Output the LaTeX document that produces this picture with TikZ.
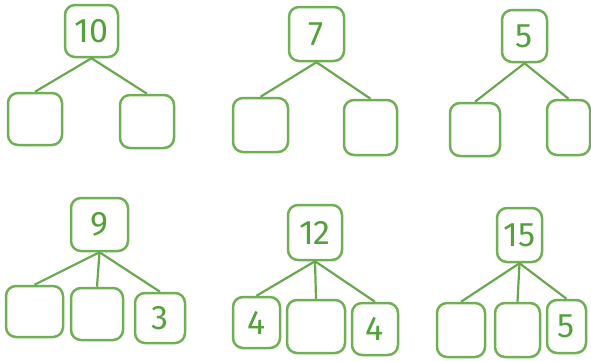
\documentclass[tikz,border=0pt]{standalone}
\usepackage{fontspec}
\setmainfont{Fira Sans}
\definecolor{boxgreen}{RGB}{112,176,84}
\definecolor{numgreen}{RGB}{84,160,60}
\definecolor{linegreen}{RGB}{104,168,78}
\tikzset{
  bx/.style={draw=boxgreen, line width=2.5pt, rounded corners=10pt, inner sep=0pt,
    text=numgreen, font=\fontsize{34}{34}\selectfont},
  ln/.style={draw=linegreen, line width=2.2pt},
}
\begin{document}
\begin{tikzpicture}[x=1pt,y=-1pt]
\useasboundingbox (0,0) rectangle (591,360);
% Tree 1
\node[bx,minimum width=53pt,minimum height=52pt] (a) at (91.5,31) {10};
\node[bx,minimum width=54pt,minimum height=52pt] (a1) at (35,119) {};
\node[bx,minimum width=54pt,minimum height=53pt] (a2) at (147,121.5) {};
\draw[ln] (a.south) -- (a1.north);
\draw[ln] (a.south) -- (a2.north);
% Tree 2
\node[bx,minimum width=55pt,minimum height=54pt] (b) at (316.5,34) {7};
\node[bx,minimum width=55pt,minimum height=54pt] (b1) at (260.5,125) {};
\node[bx,minimum width=53pt,minimum height=55pt] (b2) at (370.5,127.5) {};
\draw[ln] (b.south) -- (b1.north);
\draw[ln] (b.south) -- (b2.north);
% Tree 3
\node[bx,minimum width=45pt,minimum height=52pt] (c) at (524.5,36) {5};
\node[bx,minimum width=50pt,minimum height=53pt] (c1) at (475,129.5) {};
\node[bx,minimum width=43pt,minimum height=55pt] (c2) at (568.5,127.5) {};
\draw[ln] (c.south) -- (c1.north);
\draw[ln] (c.south) -- (c2.north);
% Tree 4
\node[bx,minimum width=57pt,minimum height=53pt] (d) at (99.5,224.5) {9};
\node[bx,minimum width=57pt,minimum height=51pt] (d1) at (34.5,311.5) {};
\node[bx,minimum width=52pt,minimum height=52pt] (d2) at (97,314) {};
\node[bx,minimum width=50pt,minimum height=50pt] (d3) at (160,318) {3};
\draw[ln] (d.south) -- (d1.north);
\draw[ln] (d.south) -- (d2.north);
\draw[ln] (d.south) -- (d3.north);
% Tree 5
\node[bx,minimum width=54pt,minimum height=55pt] (e) at (315,232.5) {12};
\node[bx,minimum width=47pt,minimum height=51pt] (e1) at (256.5,322.5) {4};
\node[bx,minimum width=58pt,minimum height=53pt] (e2) at (316,326.5) {};
\node[bx,minimum width=46pt,minimum height=52pt] (e3) at (375,329) {4};
\draw[ln] (e.south) -- (e1.north);
\draw[ln] (e.south) -- (e2.north);
\draw[ln] (e.south) -- (e3.north);
% Tree 6
\node[bx,minimum width=45pt,minimum height=54pt] (f) at (519.5,235) {15};
\node[bx,minimum width=48pt,minimum height=54pt] (f1) at (461,330) {};
\node[bx,minimum width=45pt,minimum height=54pt] (f2) at (517.5,330) {};
\node[bx,minimum width=39pt,minimum height=53pt] (f3) at (566.5,326.5) {5};
\draw[ln] (f.south) -- (f1.north);
\draw[ln] (f.south) -- (f2.north);
\draw[ln] (f.south) -- (f3.north);
\end{tikzpicture}
\end{document}
